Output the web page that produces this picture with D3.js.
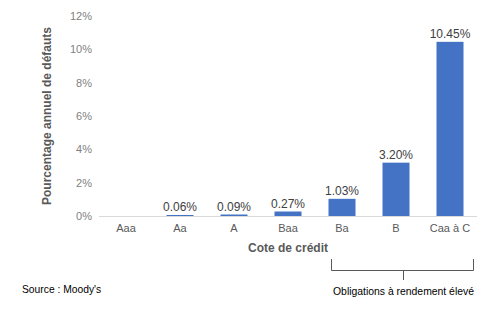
<!DOCTYPE html>
<html><head><meta charset="utf-8">
<script src="https://cdn.jsdelivr.net/npm/d3@7"></script>
<style>body{margin:0;background:#fff}svg{display:block}text{font-family:"Liberation Sans",Arial,sans-serif}</style>
</head><body><svg id="c" width="503" height="318"></svg>
<script>
const categories = ["Aaa","Aa","A","Baa","Ba","B","Caa à C"];
const values = [0, 0.06, 0.09, 0.27, 1.03, 3.20, 10.45];
const labels = ["", "0.06%", "0.09%", "0.27%", "1.03%", "3.20%", "10.45%"];
const yTicks = [0,2,4,6,8,10,12];
const highYield = ["Ba","B","Caa à C"];

const svg = d3.select("#c");
const x = d3.scaleBand().domain(categories).range([99,477]).paddingInner(0.5).paddingOuter(0.25);
const y = d3.scaleLinear().domain([0,12]).range([216,16]);

// y tick labels
svg.append("g").selectAll("text").data(yTicks).join("text")
  .attr("x",92).attr("y",d=>y(d)+4).attr("text-anchor","end")
  .attr("font-size",11).attr("fill","#7f7f7f").text(d=>d+"%");

// baseline
svg.append("line").attr("x1",99).attr("x2",477).attr("y1",y(0)+0.5).attr("y2",y(0)+0.5)
  .attr("stroke","#d9d9d9").attr("stroke-width",1);

// bars
svg.append("g").selectAll("rect").data(values).join("rect")
  .attr("x",(d,i)=>x(categories[i])).attr("width",x.bandwidth())
  .attr("y",d=>y(d)).attr("height",d=>y(0)-y(d)).attr("fill","#4472C4");

// value labels
svg.append("g").selectAll("text").data(values).join("text")
  .attr("x",(d,i)=>x(categories[i])+x.bandwidth()/2).attr("y",d=>y(d)-4)
  .attr("text-anchor","middle").attr("font-size",12).attr("fill","#404040")
  .text((d,i)=>labels[i]);

// category labels
svg.append("g").selectAll("text").data(categories).join("text")
  .attr("x",d=>x(d)+x.bandwidth()/2).attr("y",232).attr("text-anchor","middle")
  .attr("font-size",11).attr("fill","#595959").text(d=>d);

// axis titles
svg.append("text").attr("x",288).attr("y",252).attr("text-anchor","middle")
  .attr("font-size",12).attr("font-weight","bold").attr("fill","#595959").text("Cote de crédit");
svg.append("text").attr("transform","translate(51,116) rotate(-90)").attr("text-anchor","middle")
  .attr("font-size",12).attr("font-weight","bold").attr("fill","#595959").text("Pourcentage annuel de défauts");

// bracket
const bx1 = Math.round(x(highYield[0]) + 2.5) + 0.5, bx2 = Math.round(x(highYield[2]) + x.bandwidth() + 9.5) + 0.5;
const bm = Math.round((bx1+bx2)/2) + 0.5;
svg.append("path").attr("d",`M${bx1},259V270.5H${bx2}V259M${bm},270.5V280`)
  .attr("fill","none").attr("stroke","#595959").attr("stroke-width",1);
svg.append("text").attr("x",bm).attr("y",295).attr("text-anchor","middle")
  .attr("font-size",10.4).attr("fill","#000").text("Obligations à rendement élevé");
svg.append("text").attr("x",22).attr("y",293).attr("font-size",10.3).attr("fill","#000").text("Source : Moody's");
</script></body></html>
